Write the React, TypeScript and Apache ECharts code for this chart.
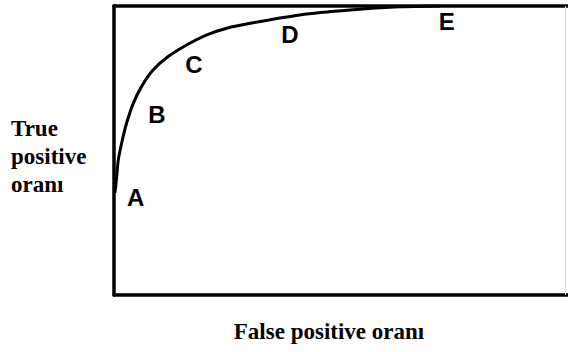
import React, { useEffect, useRef } from "react";
import * as echarts from "echarts";

const curveX = [0.002, 0.006, 0.0095, 0.017, 0.028, 0.043, 0.061, 0.087, 0.12, 0.161, 0.206, 0.25, 0.302, 0.412, 0.523, 0.634, 0.723];
const curveY = [0.353, 0.409, 0.467, 0.526, 0.595, 0.664, 0.721, 0.779, 0.825, 0.865, 0.9, 0.923, 0.94, 0.969, 0.986, 0.997, 1.0];

const pointNames = ["A", "B", "C", "D", "E"];
const pointX = [0.048, 0.095, 0.177, 0.39, 0.738];
const pointY = [0.336, 0.623, 0.799, 0.9, 0.948];

const yLabelLines = ["True", "positive", "oranı"];
const xLabel = "False positive oranı";

export default function App() {
  const ref = useRef<HTMLDivElement>(null);
  useEffect(() => {
    if (!ref.current) return;
    const chart = echarts.init(ref.current, null, { renderer: "svg" });
    const serif = "'Liberation Serif', 'Times New Roman', serif";
    chart.setOption({
      animation: false,
      backgroundColor: "#ffffff",
      grid: { left: 114, right: 0, top: 6, bottom: 57 },
      xAxis: [
        {
          type: "value",
          min: 0,
          max: 454 / 451,
          axisLine: { show: true, onZero: false, lineStyle: { color: "#000", width: 3.5 } },
          axisTick: { show: false },
          axisLabel: { show: false },
          splitLine: { show: false },
        },
        {
          type: "value",
          position: "top",
          min: 0,
          max: 454 / 451,
          axisLine: { show: true, onZero: false, lineStyle: { color: "#000", width: 3.5 } },
          axisTick: { show: false },
          axisLabel: { show: false },
          splitLine: { show: false },
        },
      ],
      yAxis: {
        type: "value",
        min: 0,
        max: 1,
        axisLine: { show: true, onZero: false, lineStyle: { color: "#000", width: 3.5 } },
        axisTick: { show: false },
        axisLabel: { show: false },
        splitLine: { show: false },
      },
      series: [
        {
          type: "line",
          data: curveX.map((x, i) => [x, curveY[i]]),
          smooth: 0.3,
          showSymbol: false,
          symbol: "none",
          lineStyle: { color: "#000", width: 3 },
          markLine: {
            silent: true,
            symbol: "none",
            label: { show: false },
            lineStyle: { color: "#d8d8d8", width: 1, type: "solid" },
            data: [{ xAxis: 1 }],
          },
        },
        {
          type: "scatter",
          symbolSize: 0,
          itemStyle: { opacity: 1 },
          data: pointNames.map((n, i) => ({ name: n, value: [pointX[i], pointY[i]] })),
          label: {
            show: true,
            position: "inside",
            formatter: (p: any) => p.name,
            color: "#000",
            opacity: 1,
            fontSize: 24,
            fontWeight: "bold",
            fontFamily: "'Liberation Sans', Arial, sans-serif",
          },
        },
      ],
      graphic: [
        {
          type: "text",
          left: 11,
          top: 114,
          style: {
            text: yLabelLines.join("\n"),
            font: `bold 23px ${serif}`,
            lineHeight: 28,
            fill: "#000",
          },
        },
        {
          type: "text",
          x: 329,
          y: 331,
          style: {
            text: xLabel,
            font: `bold 23px ${serif}`,
            fill: "#000",
            align: "center",
            verticalAlign: "middle",
          },
        },
      ],
    });
    return () => chart.dispose();
  }, []);
  return <div ref={ref} style={{ width: 568, height: 352, position: "absolute", left: 0, top: 0 }} />;
}
